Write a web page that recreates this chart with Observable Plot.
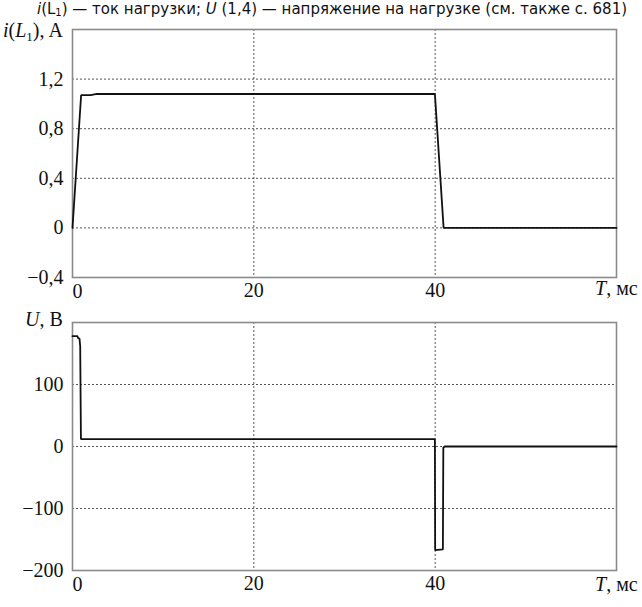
<!DOCTYPE html>
<html>
<head>
<meta charset="utf-8">
<script src="https://cdn.jsdelivr.net/npm/d3@7"></script>
<script src="https://cdn.jsdelivr.net/npm/@observablehq/plot@0.6"></script>
<style>
  html, body { margin: 0; padding: 0; background: #fff; }
  #wrap { position: relative; width: 642px; height: 607px; overflow: hidden; }
  #title { position: absolute; left: 0; top: 0; width: 642px; text-align: center;
           font-family: "DejaVu Sans", Verdana, sans-serif; font-size: 15px; line-height: 19px;
           color: #111; white-space: nowrap; padding-left: 22px; box-sizing: border-box; }
  #title sub { font-size: 10px; vertical-align: -2px; line-height: 0; }
  #top, #bottom { position: absolute; left: 0; }
  #top { top: 0; }
  #bottom { top: 300px; }
</style>
</head>
<body>
<div id="wrap">
  <div id="top"></div>
  <div id="bottom"></div>
  <div id="title"><i>i</i>(L<sub>1</sub>) — ток нагрузки; <i>U</i> (1,4) — напряжение на нагрузке (см. также с. 681)</div>
</div>
<script>
// ---- data ----
const timeI = [0, 0.95, 2.0, 2.7, 39.97, 40.93, 60];
const currentI = [0, 1.07, 1.07, 1.08, 1.08, 0, 0];

const timeU = [0, 0.55, 0.6, 0.77, 0.85, 0.93, 39.97, 40.0, 40.85, 40.9, 41.05, 60];
const voltageU = [178, 178, 175, 174, 162, 12, 12, -167, -166, -2, 0, 0];

const xTicks = [0, 20, 40];
const xGridTicks = [20, 40];
const yTicksI = [-0.4, 0, 0.4, 0.8, 1.2];
const yTicksU = [-200, -100, 0, 100];

const fmt = d => d === 0 ? "0" : (d < 0 ? "\u2212" : "") + String(Math.abs(d)).replace(".", ",");

const serif = "'Liberation Serif', 'Times New Roman', serif";
const FS = 20;
const gridStyle = {stroke: "#555", strokeOpacity: 1, strokeWidth: 1, strokeDasharray: "2,2"};

function panel(times, values, yDomain, yTicks, opts) {
  const data = times.map((t, i) => ({t, v: values[i]}));
  return Plot.plot({
    width: 642,
    height: opts.height,
    marginLeft: 72,
    marginRight: 26,
    marginTop: opts.marginTop,
    marginBottom: opts.marginBottom,
    style: {fontFamily: serif, fontSize: FS + "px", background: "white", color: "#111"},
    x: {domain: [0, 60], axis: null},
    y: {domain: yDomain, axis: null},
    marks: [
      Plot.gridY(yTicks.filter(d => d > yDomain[0]), gridStyle),
      Plot.gridX(xGridTicks, gridStyle),
      Plot.axisY(yTicks, {tickSize: 0, tickPadding: 9, tickFormat: fmt, fontSize: FS, label: null}),
      Plot.text([0], {x: d => d, text: d => fmt(d), frameAnchor: "bottom", dy: 20, dx: 5, fontSize: FS}),
      Plot.text(xTicks.filter(d => d !== 0), {x: d => d, text: d => fmt(d), frameAnchor: "bottom", dy: 19, fontSize: FS}),
      Plot.frame({stroke: "#8a8a8a", strokeWidth: 1.6}),
      Plot.line(data, {x: "t", y: "v", stroke: "#111", strokeWidth: 1.8, strokeLinejoin: "miter"})
    ]
  });
}

const topSvg = panel(timeI, currentI, [-0.4, 1.6], yTicksI, {height: 300, marginTop: 29, marginBottom: 23});
const botSvg = panel(timeU, voltageU, [-200, 200], yTicksU, {height: 307, marginTop: 22, marginBottom: 37});
document.getElementById("top").appendChild(topSvg);
document.getElementById("bottom").appendChild(botSvg);

function addLabel(svg, x, y, parts, anchor) {
  const t = d3.select(svg).append("text")
    .attr("x", x).attr("y", y)
    .attr("font-family", serif).attr("font-size", FS).attr("fill", "#111")
    .attr("text-anchor", anchor || "start");
  parts.forEach(p => {
    const s = t.append("tspan").text(p.text);
    if (p.italic) s.attr("font-style", "italic");
    if (p.sub) s.attr("font-size", 13).attr("dy", 4);
    if (p.after) s.attr("dy", -4);
  });
}

// y-axis titles
addLabel(topSvg, 3, 37, [
  {text: "i", italic: true}, {text: "("}, {text: "L", italic: true},
  {text: "1", sub: true}, {text: "), A", after: true}
]);
addLabel(botSvg, 25, 26, [{text: "U", italic: true}, {text: ", В"}]);
// x-axis titles
addLabel(topSvg, 595, 295, [{text: "T", italic: true}, {text: ", мс"}]);
addLabel(botSvg, 595, 291, [{text: "T", italic: true}, {text: ", мс"}]);
</script>
</body>
</html>
